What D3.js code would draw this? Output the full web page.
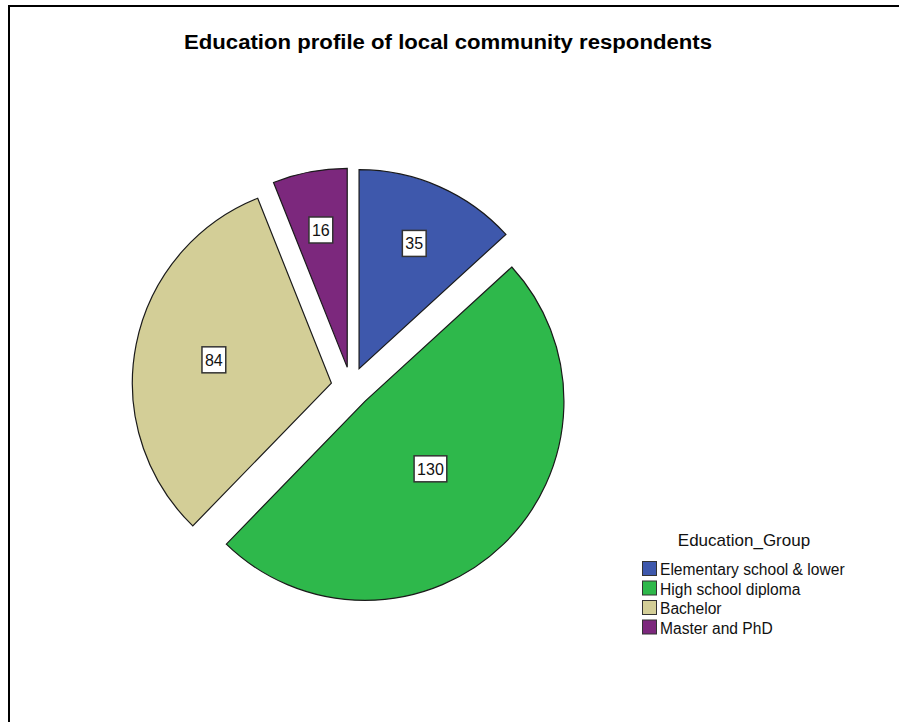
<!DOCTYPE html>
<html>
<head>
<meta charset="utf-8">
<script src="https://cdn.jsdelivr.net/npm/d3@7"></script>
<style>
  html, body { margin: 0; padding: 0; background: #fff; }
  svg { display: block; }
  text { font-family: "Liberation Sans", Arial, sans-serif; }
</style>
</head>
<body>
<svg id="chart" width="899" height="722"></svg>
<script>
// Respondent counts by education group
const categories = ["Elementary school & lower", "High school diploma", "Bachelor", "Master and PhD"];
const counts = [35, 130, 84, 16];
const sliceColors = ["#3E58AC", "#2EB84B", "#D3CE97", "#7C287D"];
const chartTitle = "Education profile of local community respondents";
const legendTitle = "Education_Group";

const W = 899, H = 722;
const svg = d3.select("#chart");

// frame (left and top edges only show in the view)
svg.append("path")
  .attr("d", `M9,${H} L9,6 L${W},6`)
  .attr("fill", "none")
  .attr("stroke", "#000")
  .attr("stroke-width", 2);

// title
svg.append("text")
  .attr("x", 448).attr("y", 49)
  .attr("text-anchor", "middle")
  .attr("font-size", 20)
  .attr("font-weight", "bold")
  .attr("fill", "#000")
  .attr("textLength", 528)
  .attr("lengthAdjust", "spacingAndGlyphs")
  .text(chartTitle);

// pie
const cx = 351, cy = 387, R = 199, explode = 20;
const pie = d3.pie().sort(null).value(d => d).startAngle(0).endAngle(2 * Math.PI);
const arcs = pie(counts);
const arc = d3.arc().innerRadius(0).outerRadius(R);

const pieG = svg.append("g").attr("transform", `translate(${cx},${cy})`);

const slices = pieG.selectAll("g.slice")
  .data(arcs)
  .join("g")
  .attr("class", "slice")
  .attr("transform", d => {
    const mid = (d.startAngle + d.endAngle) / 2;
    return `translate(${Math.sin(mid) * explode},${-Math.cos(mid) * explode})`;
  });

slices.append("path")
  .attr("d", arc)
  .attr("fill", (d, i) => sliceColors[i])
  .attr("stroke", "#1a1a1a")
  .attr("stroke-width", 1.2)
  .attr("stroke-linejoin", "miter");

// value labels in white boxes, placed near each sector's centroid
slices.each(function(d) {
  const g = d3.select(this);
  const mid = (d.startAngle + d.endAngle) / 2;
  const half = (d.endAngle - d.startAngle) / 2;
  const dist = (2 / 3) * R * Math.sin(half) / half + 8;
  const lx = Math.sin(mid) * dist, ly = -Math.cos(mid) * dist;
  const lab = g.append("g").attr("transform", `translate(${lx},${ly})`);
  const t = lab.append("text")
    .attr("text-anchor", "middle")
    .attr("dy", "0.36em")
    .attr("font-size", 16)
    .attr("fill", "#111")
    .text(d.data);
  const w = t.node().getComputedTextLength() + 6;
  lab.insert("rect", "text")
    .attr("x", -w / 2).attr("y", -13)
    .attr("width", w).attr("height", 26)
    .attr("fill", "#fff")
    .attr("stroke", "#333")
    .attr("stroke-width", 1.5);
});

// legend
const legend = svg.append("g").attr("transform", "translate(642,0)");
legend.append("text")
  .attr("x", 102).attr("y", 546)
  .attr("text-anchor", "middle")
  .attr("font-size", 17)
  .attr("fill", "#111")
  .text(legendTitle);

const rowY = d3.scaleBand().domain(categories).range([561, 639]).paddingInner(0);
const items = legend.selectAll("g.item")
  .data(categories)
  .join("g")
  .attr("class", "item")
  .attr("transform", d => `translate(0,${rowY(d)})`);

items.append("rect")
  .attr("x", 0.5).attr("y", 0.5)
  .attr("width", 14).attr("height", 14)
  .attr("fill", (d, i) => sliceColors[i])
  .attr("stroke", "#333")
  .attr("stroke-width", 1);

items.append("text")
  .attr("x", 18).attr("y", 14)
  .attr("font-size", 15.6)
  .attr("fill", "#111")
  .text(d => d);
</script>
</body>
</html>
